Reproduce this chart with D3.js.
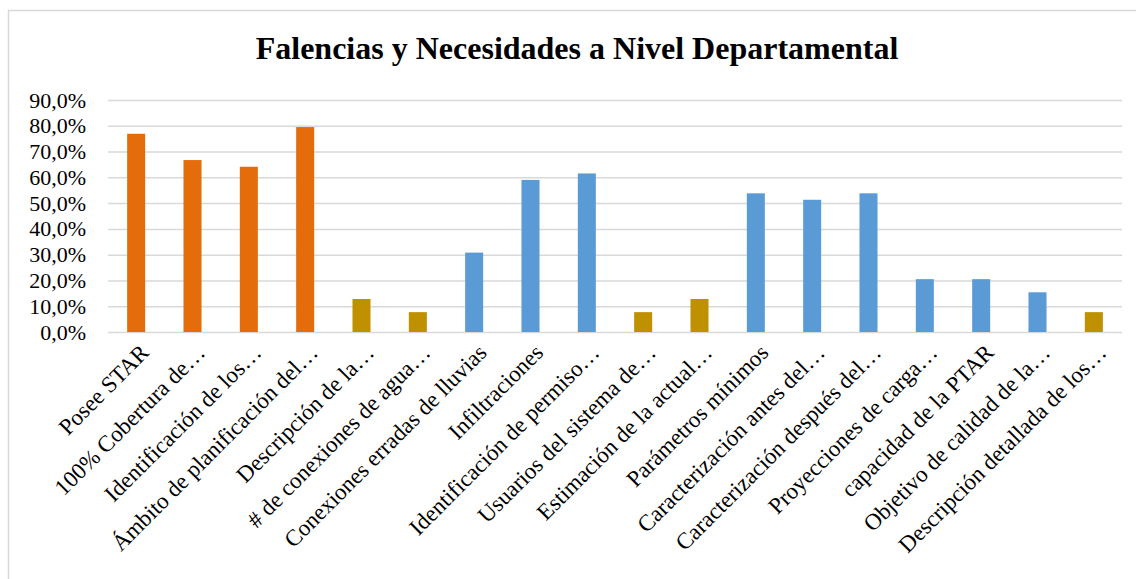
<!DOCTYPE html>
<html>
<head>
<meta charset="utf-8">
<script src="https://cdn.jsdelivr.net/npm/d3@7"></script>
<style>
  body { margin: 0; background: #fff; }
  svg text { font-family: "Liberation Serif", "Times New Roman", serif; fill: #000; }
</style>
</head>
<body>
<svg id="chart" width="1136" height="579"></svg>
<script>
var categories = [
  "Posee STAR",
  "100% Cobertura de…",
  "Identificación de los…",
  "Ámbito de planificación del…",
  "Descripción de la…",
  "# de conexiones de agua…",
  "Conexiones erradas de lluvias",
  "Infiltraciones",
  "Identificación de permiso…",
  "Usuarios del sistema de…",
  "Estimación de la actual…",
  "Parámetros mínimos",
  "Caracterización antes del…",
  "Caracterización después del…",
  "Proyecciones  de carga…",
  "capacidad de la PTAR",
  "Objetivo de calidad de la…",
  "Descripción detallada de los…"
];
var values = [76.9, 66.7, 64.1, 79.5, 12.8, 7.7, 30.8, 59.0, 61.5, 7.7, 12.8, 53.8, 51.3, 53.8, 20.5, 20.5, 15.4, 7.7];
var groups = ["a", "a", "a", "a", "b", "b", "c", "c", "c", "b", "b", "c", "c", "c", "c", "c", "c", "b"];
var yTicks = [0, 10, 20, 30, 40, 50, 60, 70, 80, 90];
var title = "Falencias y Necesidades a Nivel Departamental";

var svg = d3.select("#chart"),
    PLOT = { left: 108, right: 1122, top: 100, bottom: 332 };

var color = d3.scaleOrdinal()
    .domain(["a", "b", "c"])
    .range(["#E46C0A", "#BF9000", "#5B9BD5"]);

var xScale = d3.scaleBand()
    .domain(categories)
    .range([PLOT.left, PLOT.right])
    .padding(0);

var yScale = d3.scaleLinear()
    .domain([0, 90])
    .range([PLOT.bottom, PLOT.top]);

// outer chart border
svg.append("rect")
    .attr("x", 8.5)
    .attr("y", 10.5)
    .attr("width", 1140)
    .attr("height", 600)
    .attr("fill", "none")
    .attr("stroke", "#d9d9d9")
    .attr("stroke-width", 1.5);

svg.append("text")
    .attr("x", 577)
    .attr("y", 59)
    .attr("text-anchor", "middle")
    .style("font-size", "32px")
    .style("font-weight", "bold")
    .text(title);

// gridlines
svg.append("g")
    .selectAll("line")
    .data(yTicks)
    .enter().append("line")
    .attr("x1", PLOT.left)
    .attr("x2", PLOT.right)
    .attr("y1", function(d) { return yScale(d) + 0.5; })
    .attr("y2", function(d) { return yScale(d) + 0.5; })
    .attr("stroke", "#d9d9d9")
    .attr("stroke-width", 1.5);

var yAxis = d3.axisLeft(yScale)
    .tickValues(yTicks)
    .tickSize(0)
    .tickPadding(0)
    .tickFormat(function(d) { return d.toFixed(1).replace(".", ",") + "%"; });

var gy = svg.append("g")
    .attr("transform", "translate(86,0)")
    .call(yAxis);
gy.select(".domain").remove();
gy.selectAll("text")
    .style("font-size", "22px")
    .style("font-family", "Liberation Serif, serif");

var barW = xScale.bandwidth() * 0.32;

svg.append("g")
    .selectAll("rect")
    .data(values)
    .enter().append("rect")
    .attr("x", function(d, i) { return xScale(categories[i]) + xScale.bandwidth() / 2 - barW / 2; })
    .attr("y", function(d) { return yScale(d); })
    .attr("width", barW)
    .attr("height", function(d) { return yScale(0) - yScale(d); })
    .attr("fill", function(d, i) { return color(groups[i]); });

// category labels
svg.append("g")
    .selectAll("text")
    .data(categories)
    .enter().append("text")
    .attr("text-anchor", "end")
    .attr("transform", function(d) {
      var cx = xScale(d) + xScale.bandwidth() / 2;
      return "translate(" + (cx + 14) + ",354) rotate(-45)";
    })
    .style("font-size", "23px")
    .text(function(d) { return d; });
</script>
</body>
</html>
